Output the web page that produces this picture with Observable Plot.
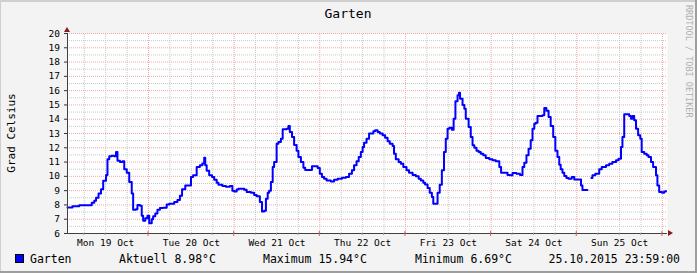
<!DOCTYPE html>
<html><head><meta charset="utf-8">
<script src="https://cdn.jsdelivr.net/npm/d3@7"></script>
<script src="https://cdn.jsdelivr.net/npm/@observablehq/plot@0.6"></script>
<style>html,body{margin:0;padding:0;background:#f3f3f3;} #chart svg{display:block}</style>
</head><body><div id="chart"></div>
<script>
// Hours since Mon 19 Oct 2015 00:00 (wall clock)
const hours = [1.3,2.7,4.6,8.1,8.8,9.3,10.0,10.7,11.3,12.1,12.5,13.0,13.7,14.4,14.9,15.3,16.0,16.7,17.2,17.9,18.6,19.3,19.7,20.5,20.9,21.6,22.1,22.5,23.1,23.7,24.2,24.9,25.3,25.9,26.5,27.2,28.1,29.1,29.8,31.2,32.1,32.8,33.4,
34.3,35.9,36.5,37.5,38.4,39.1,39.6,39.9,40.3,41.0,41.8,42.4,43.1,43.6,44.7,45.7,46.8,47.5,48.0,48.7,49.2,50.8,51.5,52.7,53.6,54.3,55.2,55.8,56.4,56.9,57.4,57.8,58.3,58.8,59.2,59.9,60.4,61.1,61.6,62.7,63.2,63.6,64.2,64.8,65.5,66.0,66.7,67.4,67.9,
69.8,71.4,72.0,72.6,73.2,73.9,75.1,76.0,77.0,78.2,79.3,80.2,81.0,81.6,82.3,82.9,83.5,84.0,84.4,85.1,85.8,87.0,87.5,88.2,88.8,89.6,90.3,91.0,91.6,92.4,92.8,93.3,94.1,94.7,95.4,96.3,97.0,98.0,98.9,99.7,100.3,101.0,
101.5,102.2,102.8,103.4,103.8,105.0,105.6,106.2,106.8,107.3,107.8,108.3,109.0,109.5,110.0,110.6,111.0,111.3,112.0,112.5,112.9,113.7,114.3,114.8,115.3,115.9,116.5,117.1,117.8,118.5,119.5,120.4,121.3,122.3,122.8,124.6,125.3,126.0,127.1,128.1,128.8,129.3,129.9,130.5,131.1,131.6,132.1,132.5,133.0,
134.4,134.9,135.5,136.1,136.7,137.4,138.0,138.6,139.1,139.5,140.0,140.5,141.1,141.7,142.6,143.3,145.2,145.6,147.0,147.1,148.1,148.4,149.2,150.3,151.0,152.2,153.1,154.0,155.0,155.7,156.4,156.8,157.3,158.7,159.2,159.6,160.1,160.6,161.2,161.8,162.2,162.9,163.6,164.1,164.8,165.4,166.2,166.6,167.1,167.9,168.5,169.0];
const temps = [7.82,7.9,7.97,8.15,8.3,8.5,8.8,9.1,9.7,10.1,11.2,11.4,11.45,11.4,11.7,11.1,11.0,11.05,10.5,10.25,9.6,8.8,7.66,7.7,8.0,7.95,7.25,6.9,7.07,7.25,6.72,7.0,7.2,7.4,7.66,7.78,7.8,8.03,8.08,8.2,8.35,8.65,9.1,
9.36,9.95,10.07,10.65,10.77,10.9,11.3,10.77,10.4,10.07,9.95,9.76,9.55,9.41,9.32,9.27,9.32,9.0,8.94,9.08,9.13,9.06,8.9,8.85,8.7,8.6,8.2,7.54,7.6,8.43,8.85,9.0,9.6,10.65,11.0,12.28,12.4,12.63,13.3,13.34,13.52,13.1,12.75,12.2,11.8,11.35,11.0,10.6,10.45,
10.7,10.58,10.18,9.95,9.83,9.71,9.64,9.76,9.83,9.9,9.95,10.18,10.42,10.77,11.05,11.35,11.7,12.05,12.36,12.64,13.0,13.15,13.22,13.1,13.0,12.87,12.7,12.45,12.28,12.12,11.58,11.19,11.0,10.88,10.65,10.42,10.25,10.1,10.0,9.83,9.71,9.55,
9.43,9.18,8.85,8.55,8.08,8.85,9.41,10.42,11.7,12.64,13.34,13.4,13.27,14.04,15.25,15.67,15.85,15.44,15.0,14.74,14.04,13.45,12.75,12.17,12.0,11.8,11.7,11.58,11.47,11.28,11.19,11.12,11.05,10.65,10.25,10.1,10.07,10.23,10.18,10.1,10.65,10.95,11.47,11.93,12.52,13.34,13.69,13.76,14.22,
14.27,14.78,14.6,14.15,13.52,12.75,11.8,11.35,10.81,10.49,10.25,10.02,9.88,9.83,9.95,9.78,9.36,9.04,9.04,null,9.88,10.07,10.18,10.49,10.65,10.77,10.88,11.0,11.12,11.23,12.05,12.75,14.34,14.22,14.04,14.22,13.92,13.34,12.87,12.64,11.7,11.58,11.47,11.35,11.0,10.65,10.07,9.36,8.9,8.85,8.94,8.98];

const yTicks = [6,7,8,9,10,11,12,13,14,15,16,17,18,19,20];
const yHalfTicks = [6.5,7.5,8.5,9.5,10.5,11.5,12.5,13.5,14.5,15.5,16.5,17.5,18.5,19.5];
const dayLabels = ["Mon 19 Oct","Tue 20 Oct","Wed 21 Oct","Thu 22 Oct","Fri 23 Oct","Sat 24 Oct","Sun 25 Oct"];
const dayLabelHours = [12,36,60,84,108,132,156];
const dayBoundaryHours = [24,48,72,96,120,144,168];
const sixHourTicks = [6,12,18,30,36,42,54,60,66,78,84,90,102,108,114,126,132,138,150,156,162];
const xDomain = [1.3,169.43];

const title = "Garten";
const yLabel = "Grad Celsius";
const seriesName = "Garten";
const legendStats = ["Aktuell 8.98°C","Maximum 15.94°C","Minimum 6.69°C"];
const timestamp = "25.10.2015 23:59:00";
const watermark = "RRDTOOL / TOBI OETIKER";

const data = hours.map((h,i)=>({h, t: temps[i]}));
const FONT = "DejaVu Sans Mono";
const majorColor = "#f0a8a8";
const minorColor = "#c8c8c8";

const chart = Plot.plot({
  width: 697, height: 273,
  marginLeft: 67, marginRight: 30, marginTop: 33, marginBottom: 40,
  style: {background: "#f3f3f3", fontFamily: FONT, fontSize: "9.5px", color: "#000", overflow: "visible"},
  x: {type: "linear", domain: xDomain, label: null},
  y: {type: "linear", domain: [6, 20], label: null},
  marks: [
    Plot.frame({fill: "white", stroke: null}),
    Plot.ruleY(yHalfTicks, {stroke: minorColor, strokeDasharray: "1,1", x1: xDomain[0], x2: xDomain[1]}),
    Plot.ruleX(sixHourTicks, {stroke: minorColor, strokeDasharray: "1,1", y1: 6, y2: 20}),
    Plot.ruleY(yTicks.slice(1), {stroke: majorColor, strokeDasharray: "1,1", x1: xDomain[0], x2: xDomain[1]}),
    Plot.ruleX(dayBoundaryHours, {stroke: majorColor, strokeDasharray: "1,1", y1: 6, y2: 20}),
    Plot.line(data, {x: "h", y: "t", curve: "step-after", stroke: "#0000ff", strokeWidth: 2}),
    Plot.axisY(yTicks, {tickSize: 3, tickPadding: 4.5, fontFamily: FONT, fontSize: 9.5, stroke: "#333", fill: "#000", label: null}),
    Plot.axisX(dayLabelHours, {tickSize: 0, tickPadding: 5.5, fontFamily: FONT, fontSize: 9.5, fill: "#000", label: null, tickFormat: d => dayLabels[dayLabelHours.indexOf(d)]}),
    Plot.ruleX([xDomain[0]], {stroke: "#404040", y1: 6, y2: 20}),
    Plot.ruleY([6], {stroke: "#404040", x1: xDomain[0], x2: xDomain[1]})
  ]
});
document.getElementById("chart").appendChild(chart);

// Decorations
const svg = d3.select(chart);
const xs = chart.scale("x"), ys = chart.scale("y");
const x0 = xs.apply(xDomain[0]), x1 = xs.apply(xDomain[1]);
const yTop = ys.apply(20), yBot = ys.apply(6);

// minor ticks on x axis
svg.append("g").selectAll("line").data(sixHourTicks).join("line")
  .attr("x1", d => xs.apply(d)).attr("x2", d => xs.apply(d))
  .attr("y1", yBot).attr("y2", yBot + 2).attr("stroke", "#999");
// day boundary ticks on x axis
svg.append("g").selectAll("line").data(dayBoundaryHours).join("line")
  .attr("x1", d => xs.apply(d)).attr("x2", d => xs.apply(d))
  .attr("y1", yBot - 2).attr("y2", yBot + 3).attr("stroke", "#d06060");

// arrows
svg.append("path").attr("d", `M${x0-3},${yTop-1}L${x0+3},${yTop-1}L${x0},${yTop-6}Z`).attr("fill", "#8b1a1a");
svg.append("path").attr("d", `M${x1+1},${yBot-3}L${x1+1},${yBot+3}L${x1+6},${yBot}Z`).attr("fill", "#8b1a1a");

// title
svg.append("text").attr("x", 348).attr("y", 18).attr("text-anchor", "middle")
  .attr("font-family", FONT).attr("font-size", 13).attr("fill", "#000").text(title);
// y label
svg.append("text").attr("transform", `translate(15,${(yTop+yBot)/2}) rotate(-90)`).attr("text-anchor", "middle")
  .attr("font-family", FONT).attr("font-size", 11).attr("fill", "#000").text(yLabel);
// watermark
svg.append("text").attr("transform", `translate(685.5,5) rotate(90)`).attr("text-anchor", "start")
  .attr("font-family", FONT).attr("font-size", 8.5).attr("fill", "#b0b0b0").text(watermark);

// legend
const ly = 263;
svg.append("rect").attr("x", 15.5).attr("y", 254.5).attr("width", 8).attr("height", 8)
  .attr("fill", "#0000ff").attr("stroke", "#000");
const legendItems = [[30, seriesName], [119, legendStats[0]], [263, legendStats[1]], [415, legendStats[2]], [548.5, timestamp]];
svg.append("g").selectAll("text").data(legendItems).join("text")
  .attr("x", d => d[0]).attr("y", ly).attr("text-anchor", "start").attr("font-family", FONT).attr("font-size", 11.5).attr("fill", "#000")
  .text(d => d[1]);

// frame border
svg.append("line").attr("x1", 0).attr("x2", 697).attr("y1", 1).attr("y2", 1).attr("stroke", "#cfcfcf").attr("stroke-width", 2);
svg.append("line").attr("x1", 0.5).attr("x2", 0.5).attr("y1", 0).attr("y2", 273).attr("stroke", "#cfcfcf").attr("stroke-width", 1);
svg.append("line").attr("x1", 0).attr("x2", 697).attr("y1", 272).attr("y2", 272).attr("stroke", "#9e9e9e").attr("stroke-width", 2);
svg.append("line").attr("x1", 696).attr("x2", 696).attr("y1", 0).attr("y2", 273).attr("stroke", "#9e9e9e").attr("stroke-width", 2);
</script></body></html>
